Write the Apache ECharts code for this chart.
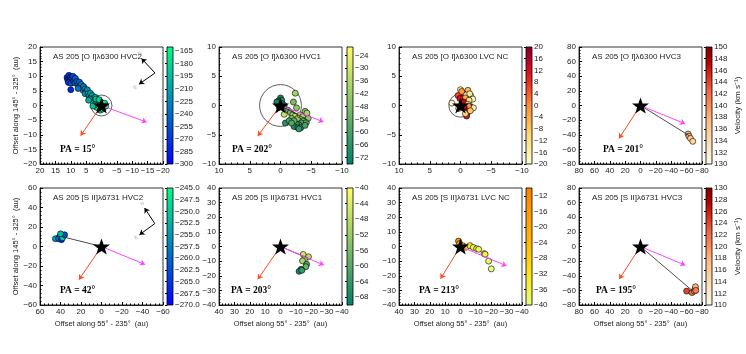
<!DOCTYPE html>
<html>
<head>
<meta charset="utf-8">
<script src="https://cdn.jsdelivr.net/npm/echarts@6/dist/echarts.min.js"></script>
<style>
  html, body { margin: 0; padding: 0; background: #fff; }
  #chart { width: 746px; height: 354px; }
</style>
</head>
<body>
<div id="chart"></div>
<script>
// each point: [offset along 55-235 (au), offset along 145-325 (au), velocity (km/s)]
const oiHvc2 = [
  [11.2, 9.6, -275], [10.6, 10.3, -270], [10.0, 9.8, -265], [11.0, 8.8, -280], [10.4, 8.6, -268],
  [9.6, 9.2, -260], [9.3, 10.0, -262], [10.8, 7.9, -272], [9.9, 7.6, -258], [9.0, 8.4, -255],
  [10.0, 5.4, -278], [8.5, 9.3, -250], [8.6, 7.7, -248], [8.0, 8.2, -245], [7.6, 7.2, -240],
  [7.2, 8.0, -242], [7.0, 6.6, -235], [6.6, 7.2, -238], [6.3, 6.0, -228], [6.0, 5.2, -225],
  [5.8, 6.5, -232], [5.4, 5.6, -222], [5.0, 4.8, -218], [5.3, 4.0, -215], [7.6, 5.8, -236],
  [4.6, 5.4, -226], [4.4, 4.0, -212], [4.0, 3.3, -208], [3.6, 4.2, -215], [3.4, 2.8, -200],
  [3.0, 3.4, -205], [3.0, 2.0, -195], [2.6, 2.6, -190], [2.2, 1.6, -185], [2.6, 1.0, -188],
  [2.0, 2.8, -198], [1.8, 0.8, -180], [1.4, 1.8, -182], [1.0, 1.0, -175], [0.6, 0.2, -172],
  [1.2, -0.2, -178], [0.2, 1.2, -170], [-0.4, 0.6, -168], [-0.8, -0.4, -170], [0.0, -0.8, -174],
  [0.8, -1.0, -180], [-1.0, 0.8, -172], [1.6, -0.6, -184], [0.4, -1.6, -176], [-0.4, -1.2, -170],
  [2.2, 0.2, -190], [3.8, 2.2, -200], [4.2, 1.8, -206], [1.8, 2.2, -192], [0.8, 2.0, -186],
  [-1.4, -0.2, -168], [2.8, -0.2, -194]
];
const oiHvc1 = [
  [0.0, 1.3, -70], [0.3, 0.8, -72], [-0.2, 0.9, -68], [0.4, 0.2, -70], [-0.3, 0.3, -66],
  [0.2, -0.3, -70], [-0.6, 0.0, -64], [0.6, 0.6, -72], [-2.4, 2.1, -40], [-2.6, -0.4, -44],
  [-2.1, 0.6, -48], [-1.2, -0.8, -56], [-0.6, -1.5, -32], [-0.8, -3.0, -66], [-1.6, -1.2, -50],
  [-2.0, -1.6, -38], [-2.4, -1.8, -34], [-2.8, -2.2, -44], [-3.2, -1.6, -36], [-3.6, -1.9, -40],
  [-4.0, -1.0, -46], [-4.3, -1.3, -38], [-3.8, -2.6, -52], [-3.4, -3.0, -56], [-3.0, -3.3, -62],
  [-2.6, -3.2, -64], [-2.2, -3.6, -68], [-2.8, -3.8, -70], [-3.3, -3.8, -66], [-4.2, -2.9, -54],
  [-4.0, -3.4, -60], [-1.8, -2.2, -46], [-2.2, -2.6, -54], [-1.4, -2.6, -60], [-3.0, -4.0, -64],
  [-4.5, -2.2, -44], [-1.8, -3.0, -58]
];
const oiLvcNc = [
  [0.0, 2.7, -16], [-1.2, 2.6, -6], [-0.4, 2.1, 10], [-0.9, 1.8, -18], [0.4, 1.7, 6],
  [-1.7, 1.6, -18], [-0.8, 1.3, -4], [-2.0, 1.1, -18], [-1.4, 0.9, -12], [0.1, 1.2, 12],
  [1.4, 0.4, -18], [-0.5, 0.6, 14], [-1.2, 0.2, -14], [-1.7, -0.3, 12], [-2.1, -0.4, -16],
  [-1.3, -0.1, -2], [-0.6, -0.3, 16], [-1.2, -1.1, 10], [-1.0, -1.8, 12], [-0.8, -1.4, -10],
  [-1.6, -0.9, -8], [0.3, -0.5, -16], [-0.2, 2.4, -2], [-1.5, 2.0, -14]
];
const oiHvc3 = [[-62, -39, 137], [-63, -42, 138], [-65, -45, 136], [-68, -49, 135]];
const siiHvc2 = [
  [39, 12, -256], [37, 11, -258], [41, 10, -262], [45, 8, -254], [42, 8, -260],
  [39, 7, -266], [38, 9, -250], [36, 12, -262], [40, 13, -252]
];
const siiHvc1 = [
  [-14.8, -5.4, -46], [-18.2, -7.0, -48], [-15.6, -8.8, -52], [-14.3, -9.8, -50], [-17.0, -12.2, -60],
  [-16.5, -13.8, -58], [-13.4, -15.6, -66], [-12.1, -17.0, -68], [-13.9, -16.3, -64]
];
const siiLvcNc = [
  [1.3, 3.7, -14], [0.5, 2.0, -20], [-1.5, 0.5, -26], [-3.5, -0.5, -32], [-6.1, 0.6, -34],
  [-8.3, -0.6, -36], [-10.5, -1.5, -36], [-11.8, -1.9, -38], [-15.3, -4.9, -38], [-16.0, -5.3, -36],
  [-18.3, -10.0, -38], [-20.0, -15.3, -40]
];
const siiHvc3 = [[-60, -61, 124], [-67, -63, 122], [-70, -61, 120], [-71, -58, 119], [-71.5, -55, 118], [-72, -60, 121]];

// colourbar ticks
const cbTicks1 = [-300, -285, -270, -255, -240, -225, -210, -195, -180, -165];
const cbTicks2 = [-72, -66, -60, -54, -48, -42, -36, -30, -24];
const cbTicks3 = [-20, -16, -12, -8, -4, 0, 4, 8, 12, 16, 20];
const cbTicks4 = [130, 132, 134, 136, 138, 140, 142, 144, 146, 148, 150];
const cbTicks5 = [-270, -267.5, -265, -262.5, -260, -257.5, -255, -252.5, -250, -247.5, -245];
const cbTicks6 = [-68, -64, -60, -56, -52, -48, -44, -40];
const cbTicks7 = [-40, -36, -32, -28, -24, -20, -16, -12];
const cbTicks8 = [110, 112, 114, 116, 118, 120, 122, 124, 126, 128, 130];

// arrows / lines: [end x, end y] from the star
const redEnd = [[6.8, -10.3], [3.7, -5.2], null, [28, -45], [22, -34], [14.8, -22.4], [13, -22], [27.7, -44.6]];
const magEnd = [[-14.7, -5.7], [-7.0, -2.8], null, [-58, -25], [-42.5, -18.4], [-28.2, -12.7], [-30, -13.3], [-58.3, -25.6]];
const jetEnd = [null, [-4.6, -2.6], null, [-63, -41], [38, 10], [-18, -8], null, [-67, -60]];
const circleR = [3.4, 3.4, 1.9, null, null, null, null, null];
const compass = [
  { v: [-17.4, 11.1], n: [-13, 16.1], e: [-12.2, 7.3], nl: [-12.4, 17.8], el: [-11.0, 6.2] },
  null, null, null,
  { v: [-52, 23.5], n: [-42, 39.5], e: [-37, 12], nl: [-40, 44], el: [-34, 9] },
  null, null, null
];

const winter = ['#0000ff', '#00ff80'];
const summer = ['#008066', '#ffff66'];
const ylOrRd = ['#ffffcc', '#ffeda0', '#fed976', '#feb24c', '#fd8d3c', '#fc4e2a', '#e31a1c', '#bd0026', '#800026'];
const orRd = ['#fff7ec', '#fee8c8', '#fdd49e', '#fdbb84', '#fc8d59', '#ef6548', '#d7301f', '#b30000', '#7f0000'];
const wistia = ['#e4ff7a', '#ffe81a', '#ffbd00', '#ffa000', '#fc7f00'];

const panels = [
  { title: 'AS 205 [O I]λ6300 HVC2', pts: oiHvc2, lim: 20, step: 5, vmin: -300, vmax: -160, ticks: cbTicks1, cmap: winter, pa: 'PA = 15°' },
  { title: 'AS 205 [O I]λ6300 HVC1', pts: oiHvc1, lim: 10, step: 5, vmin: -75, vmax: -20, ticks: cbTicks2, cmap: summer, pa: 'PA = 202°' },
  { title: 'AS 205 [O I]λ6300 LVC NC', pts: oiLvcNc, lim: 10, step: 5, vmin: -20, vmax: 20, ticks: cbTicks3, cmap: ylOrRd, pa: '' },
  { title: 'AS 205 [O I]λ6300 HVC3', pts: oiHvc3, lim: 80, step: 20, vmin: 130, vmax: 150, ticks: cbTicks4, cmap: orRd, pa: 'PA = 201°' },
  { title: 'AS 205 [S II]λ6731 HVC2', pts: siiHvc2, lim: 60, step: 20, vmin: -270, vmax: -245, ticks: cbTicks5, cmap: winter, pa: 'PA = 42°', dec: 1 },
  { title: 'AS 205 [S II]λ6731 HVC1', pts: siiHvc1, lim: 40, step: 10, vmin: -70, vmax: -40, ticks: cbTicks6, cmap: summer, pa: 'PA = 203°' },
  { title: 'AS 205 [S II]λ6731 LVC NC', pts: siiLvcNc, lim: 40, step: 10, vmin: -40, vmax: -10, ticks: cbTicks7, cmap: wistia, pa: 'PA = 213°' },
  { title: 'AS 205 [S II]λ6731 HVC3', pts: siiHvc3, lim: 80, step: 20, vmin: 110, vmax: 130, ticks: cbTicks8, cmap: orRd, pa: 'PA = 195°' }
];

// layout in pixels
const colLeft = [40, 219, 399, 579];
const cbLeft = [167, 347, 526, 706];
const rowTop = [47, 188];
const plotW = 123, plotH = 117, cbW = 6;
const paLeft = [60, 232, 0, 603, 60, 231, 419, 596];

const FONT = 'Liberation Sans, Arial, sans-serif';
const minus = s => String(s).replace('-', '\u2212');

const chart = echarts.init(document.getElementById('chart'), null, { renderer: 'canvas' });

const grid = [], xAxis = [], yAxis = [], series = [], visualMap = [], graphic = [];

panels.forEach((p, i) => {
  const col = i % 4, row = Math.floor(i / 4);
  const g = 2 * i, c = 2 * i + 1;
  grid.push({ left: colLeft[col], top: rowTop[row], width: plotW, height: plotH,
    show: true, borderColor: '#000', borderWidth: 0.8, backgroundColor: '#fff' });
  grid.push({ left: cbLeft[col], top: rowTop[row], width: cbW, height: plotH, show: false });

  xAxis.push({
    gridIndex: g, type: 'value', min: -p.lim, max: p.lim, interval: p.step, inverse: true,
    axisLine: { show: true, onZero: false, lineStyle: { color: '#000', width: 0.8 } },
    axisTick: { inside: true, length: 3, lineStyle: { color: '#000' } },
    minorTick: { show: true, splitNumber: 5, length: 1.5, lineStyle: { color: '#000' } },
    splitLine: { show: false },
    axisLabel: { fontSize: 8, color: '#222', fontFamily: FONT, margin: 3, formatter: minus },
    name: row === 1 ? 'Offset along 55\u00b0 - 235\u00b0  (au)' : '',
    nameLocation: 'middle', nameGap: 15,
    nameTextStyle: { fontSize: 7.5, color: '#222', fontFamily: FONT }
  });
  yAxis.push({
    gridIndex: g, type: 'value', min: -p.lim, max: p.lim, interval: p.step,
    axisLine: { show: true, onZero: false, lineStyle: { color: '#000', width: 0.8 } },
    axisTick: { inside: true, length: 3, lineStyle: { color: '#000' } },
    minorTick: { show: true, splitNumber: 5, length: 1.5, lineStyle: { color: '#000' } },
    splitLine: { show: false },
    axisLabel: { fontSize: 8, color: '#222', fontFamily: FONT, margin: 3, formatter: minus },
    name: col === 0 ? 'Offset along 145\u00b0 - 325\u00b0  (au)' : '',
    nameLocation: 'middle', nameGap: 19,
    nameTextStyle: { fontSize: 7.5, color: '#222', fontFamily: FONT }
  });

  // colourbar axes
  xAxis.push({ gridIndex: c, type: 'value', min: 0, max: 1, show: false });
  yAxis.push({
    gridIndex: c, type: 'value', position: 'right', min: p.vmin, max: p.vmax,
    axisLine: { show: true, lineStyle: { color: '#000', width: 0.8 } },
    axisTick: { show: true, inside: true, length: 2, customValues: p.ticks, lineStyle: { color: '#000' } },
    splitLine: { show: false },
    axisLabel: { fontSize: 8, color: '#222', fontFamily: FONT, margin: 2, customValues: p.ticks,
      formatter: v => minus(p.dec ? Number(v).toFixed(p.dec) : v) },
    name: col === 3 ? 'Velocity (km s\u207b\u00b9)' : '',
    nameLocation: 'middle', nameRotate: 90, nameGap: 22,
    nameTextStyle: { fontSize: 8, color: '#222', fontFamily: FONT }
  });

  // scatter points
  const sIdx = series.length;
  series.push({
    type: 'scatter', xAxisIndex: g, yAxisIndex: g, data: p.pts, symbolSize: 6, z: 3,
    itemStyle: { borderColor: '#000', borderWidth: 0.6, opacity: 1 }
  });
  visualMap.push({
    type: 'continuous', show: false, seriesIndex: sIdx, dimension: 2,
    min: p.vmin, max: p.vmax, inRange: { color: p.cmap }
  });

  // colourbar gradient
  const stops = p.cmap.map((col2, k) => ({ offset: k / (p.cmap.length - 1), color: col2 }));
  series.push({
    type: 'custom', xAxisIndex: c, yAxisIndex: c, silent: true, z: 2,
    data: [[0, p.vmin]],
    renderItem: (params, api) => {
      const a = api.coord([0, p.vmax]);
      const b = api.coord([1, p.vmin]);
      return {
        type: 'rect',
        shape: { x: a[0], y: a[1], width: b[0] - a[0], height: b[1] - a[1] },
        style: { fill: new echarts.graphic.LinearGradient(0, 1, 0, 0, stops), stroke: '#000', lineWidth: 0.8 }
      };
    }
  });

  // circle
  if (circleR[i]) {
    const r = circleR[i];
    series.push({
      type: 'custom', xAxisIndex: g, yAxisIndex: g, silent: true, z: 2,
      data: [[0, 0]],
      renderItem: (params, api) => {
        const ctr = api.coord([0, 0]);
        const sz = api.size([r, r]);
        return { type: 'circle', shape: { cx: ctr[0], cy: ctr[1], r: sz[0] },
          style: { fill: 'none', stroke: '#333', lineWidth: 0.8 } };
      }
    });
  }

  const lineSeries = (end, color, arrow) => ({
    type: 'lines', coordinateSystem: 'cartesian2d', xAxisIndex: g, yAxisIndex: g, z: 4,
    symbol: arrow ? ['none', 'arrow'] : ['none', 'none'], symbolSize: 5,
    lineStyle: { color: color, width: arrow ? 1 : 0.8, opacity: 1 },
    data: [{ coords: [[0, 0], end] }]
  });
  if (jetEnd[i]) series.push(lineSeries(jetEnd[i], '#222', false));
  if (redEnd[i]) series.push(lineSeries(redEnd[i], '#ff4a22', true));
  if (magEnd[i]) series.push(lineSeries(magEnd[i], '#ff44ff', true));

  if (compass[i]) {
    const cp = compass[i];
    series.push({
      type: 'lines', coordinateSystem: 'cartesian2d', xAxisIndex: g, yAxisIndex: g, z: 4,
      symbol: ['none', 'arrow'], symbolSize: 5,
      lineStyle: { color: '#000', width: 1, opacity: 1 },
      data: [{ coords: [cp.v, cp.n] }, { coords: [cp.v, cp.e] }]
    });
    series.push({
      type: 'scatter', xAxisIndex: g, yAxisIndex: g, symbolSize: 0, z: 4, silent: true,
      data: [{ value: cp.nl, name: 'N' }, { value: cp.el, name: 'E' }],
      label: { show: true, position: 'inside', formatter: '{b}', fontSize: 5, color: '#999', rotate: 30 }
    });
  }

  // star
  series.push({
    type: 'scatter', xAxisIndex: g, yAxisIndex: g, z: 5, silent: true,
    symbol: 'path://M0,-10 L2.35,-3.24 L9.51,-3.09 L3.8,1.24 L5.88,8.09 L0,4 L-5.88,8.09 L-3.8,1.24 L-9.51,-3.09 L-2.35,-3.24 Z',
    symbolKeepAspect: true, symbolSize: 17,
    itemStyle: { color: '#000', opacity: 1 },
    data: [[0, 0]]
  });

  graphic.push({
    type: 'text', left: colLeft[col] + 13, top: rowTop[row] + 6,
    style: { text: p.title, fontSize: 8, fill: '#222', fontFamily: FONT }
  });
  if (p.pa) {
    graphic.push({
      type: 'text', left: paLeft[i], top: rowTop[row] + plotH - 19,
      style: { text: p.pa, fontSize: 9.5, fontWeight: 'bold', fill: '#000', fontFamily: 'Liberation Serif, Times New Roman, serif' }
    });
  }
});

const option = {
  animation: false,
  backgroundColor: '#fff',
  grid: grid,
  xAxis: xAxis,
  yAxis: yAxis,
  visualMap: visualMap,
  series: series,
  graphic: graphic
};

chart.setOption(option);
</script>
</body>
</html>
